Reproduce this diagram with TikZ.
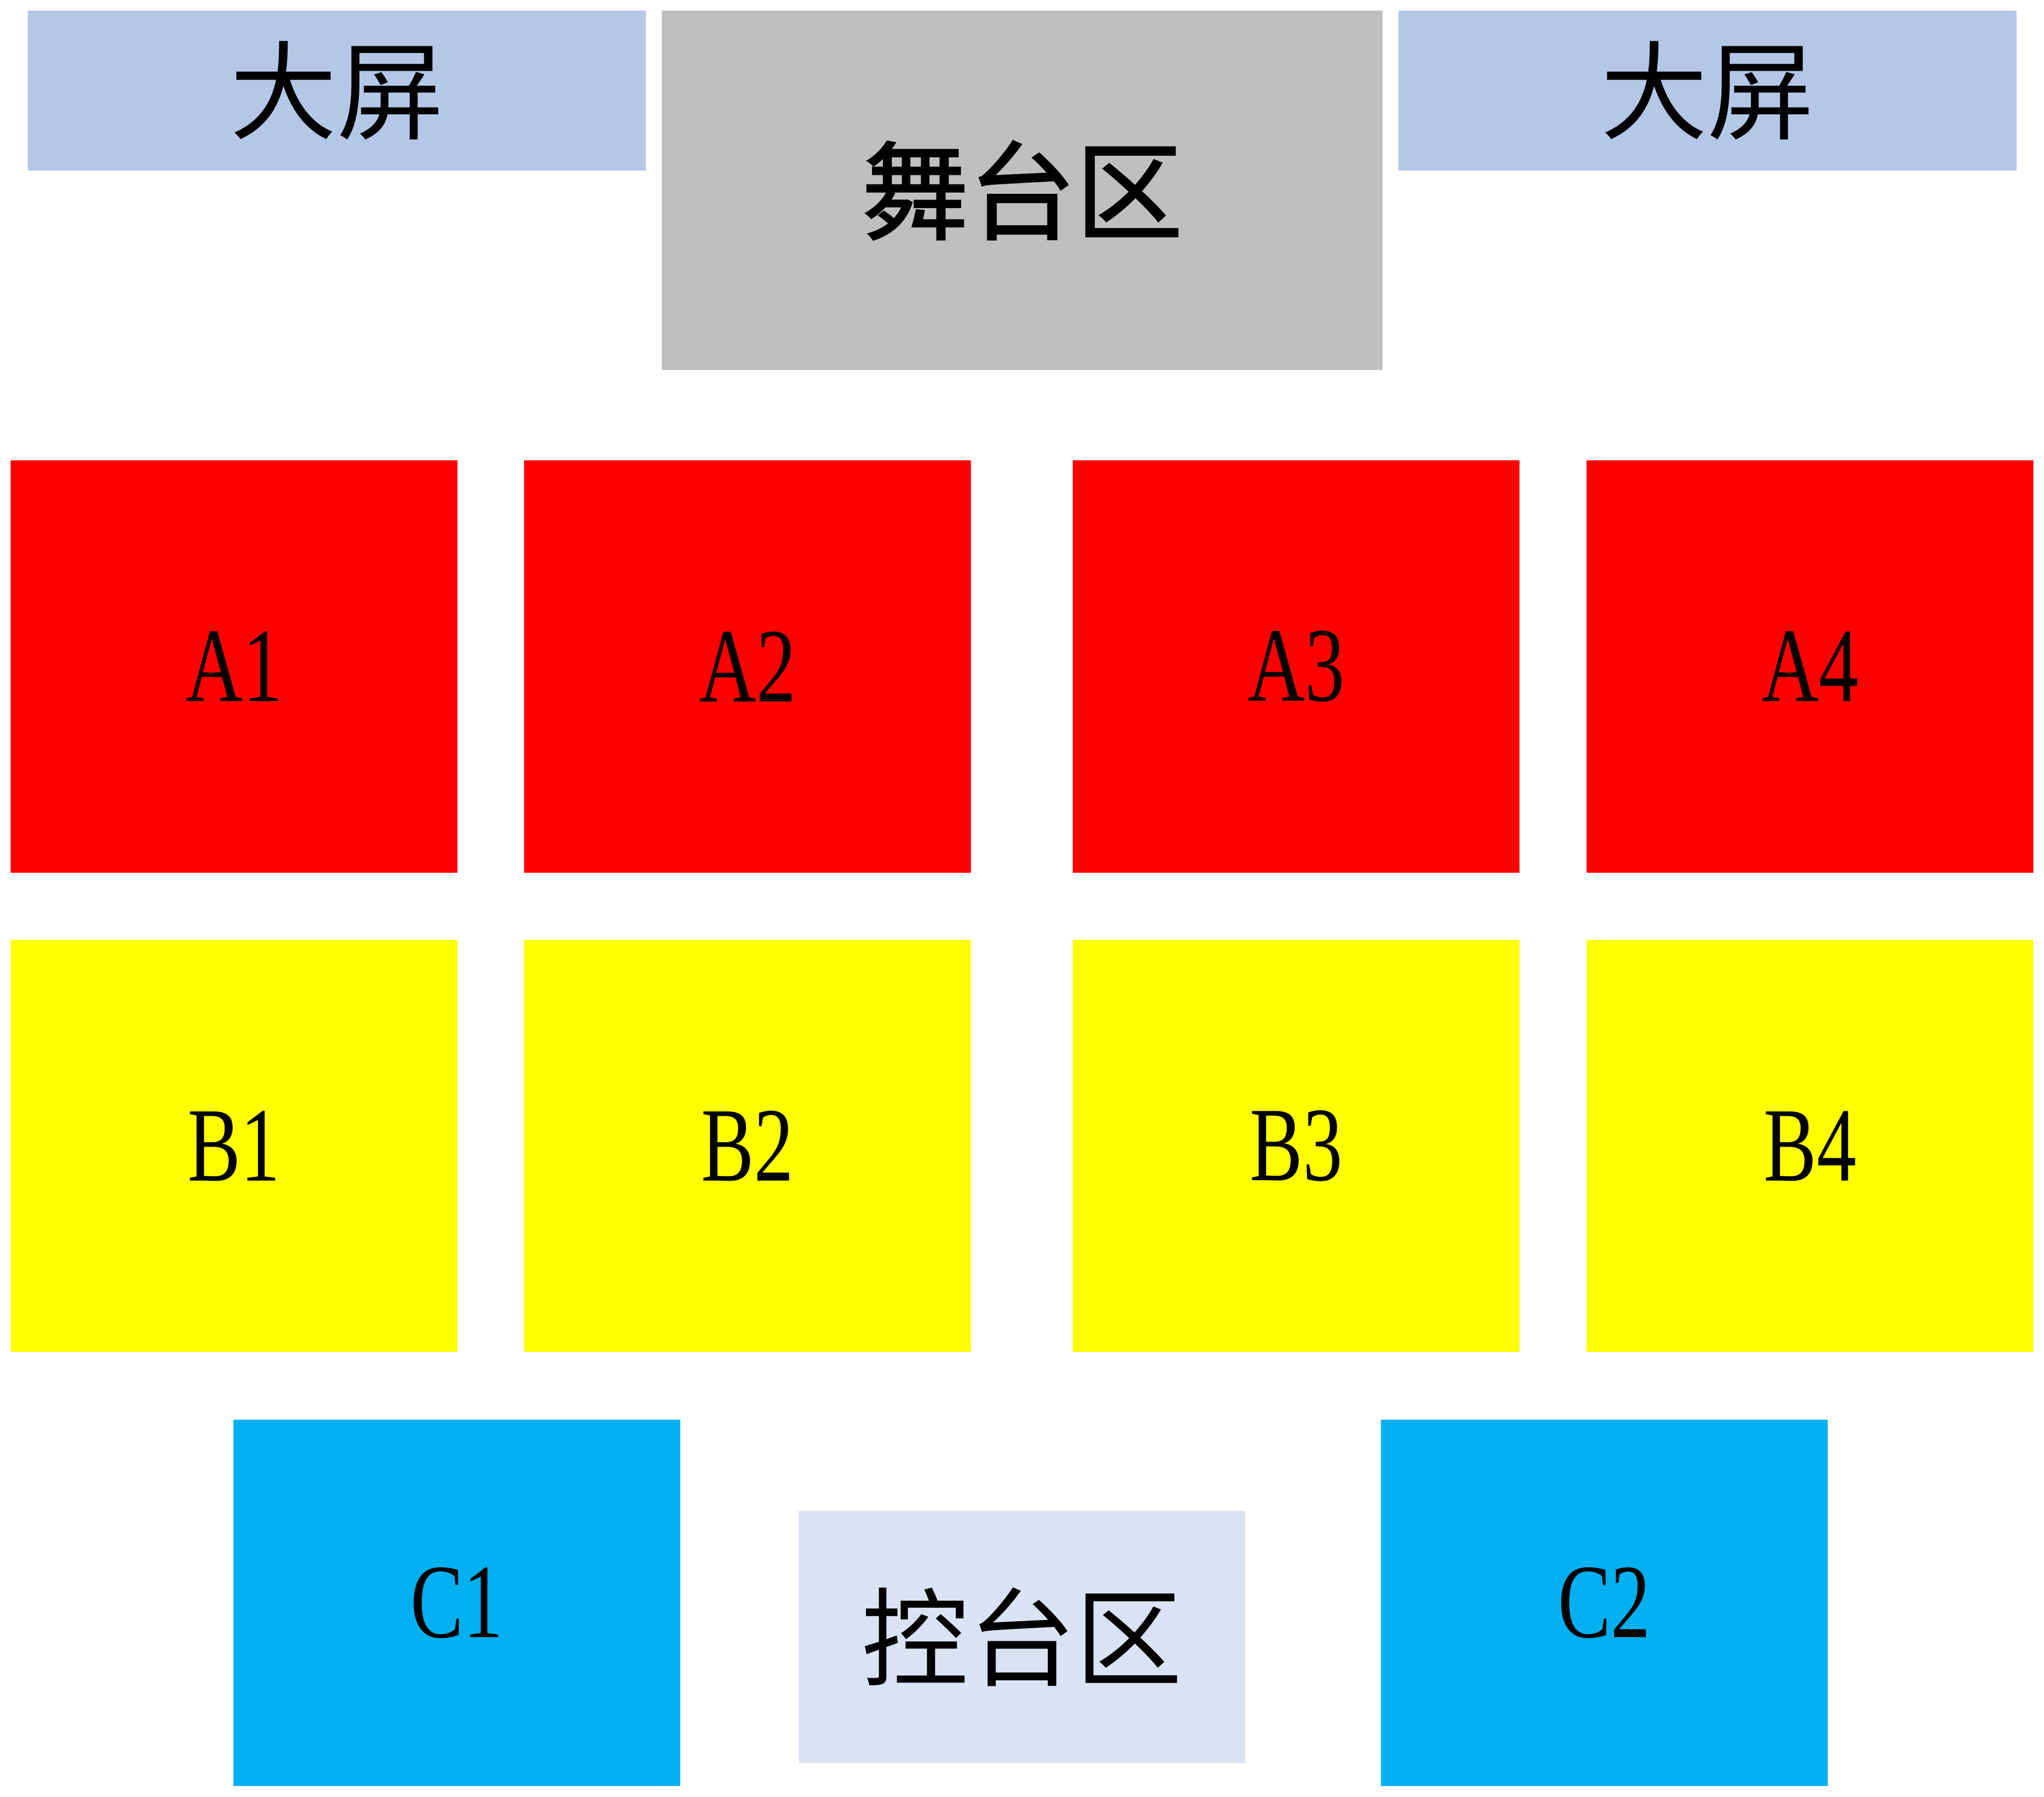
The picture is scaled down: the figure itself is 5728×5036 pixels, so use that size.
\documentclass[tikz,border=0pt]{standalone}
\usepackage{fontspec}
\newfontfamily\cjk{Noto Sans CJK SC}
\newfontfamily\cjkheavy[FakeBold=1.5]{Noto Sans CJK SC}
\newfontfamily\narrowserif[FakeStretch=0.75]{Liberation Serif}
\definecolor{screenblue}{HTML}{B4C7E7}
\definecolor{stagegray}{HTML}{BFBFBF}
\definecolor{zonered}{HTML}{FF0000}
\definecolor{zoneyellow}{HTML}{FFFF00}
\definecolor{zonecyan}{HTML}{00B0F0}
\definecolor{ctrlblue}{HTML}{DAE3F3}
\tikzset{
    zone/.style={inner sep=0pt, minimum width=125.2pt, font=\narrowserif\fontsize{29.6pt}{30pt}\selectfont},
    seatA/.style={zone, fill=zonered, minimum height=115.6pt},
    seatB/.style={zone, fill=zoneyellow, minimum height=115.5pt},
    seatC/.style={zone, fill=zonecyan, minimum height=102.7pt},
    bigscreen/.style={inner sep=0pt, fill=screenblue, minimum width=173.2pt, minimum height=44.8pt, font=\cjk\fontsize{30pt}{30pt}\selectfont}
}
\begin{document}
\begin{tikzpicture}[x=0.1pt,y=-0.1pt]
    \useasboundingbox[fill=white] (0,0) rectangle (5728,5036);

    % Screens and stage
    \node[bigscreen] (screenL) at (944,254) {大屏};
    \node[bigscreen] (screenR) at (4785,254) {大屏};
    \node[inner sep=0pt, fill=stagegray, minimum width=202pt, minimum height=100.7pt,
          font=\cjkheavy\fontsize{30pt}{30pt}\selectfont] (stage) at (2864.5,533.5) {舞台区};

    % Seating rows
    \foreach \i/\x in {1/656,2/2095,3/3632.5,4/5072.5} {
        \node[seatA] (A\i) at (\x,1868) {A\i};
        \node[seatB] (B\i) at (\x,3211.5) {B\i};
    }

    % Back zones
    \node[seatC] (C1) at (1280.5,4491.5) {C1};
    \node[seatC] (C2) at (4495.5,4491.5) {C2};
    \node[inner sep=0pt, fill=ctrlblue, minimum width=125.2pt, minimum height=70.7pt,
          font=\cjk\fontsize{30pt}{30pt}\selectfont] (ctrl) at (2864,4587.5) {控台区};
\end{tikzpicture}
\end{document}
